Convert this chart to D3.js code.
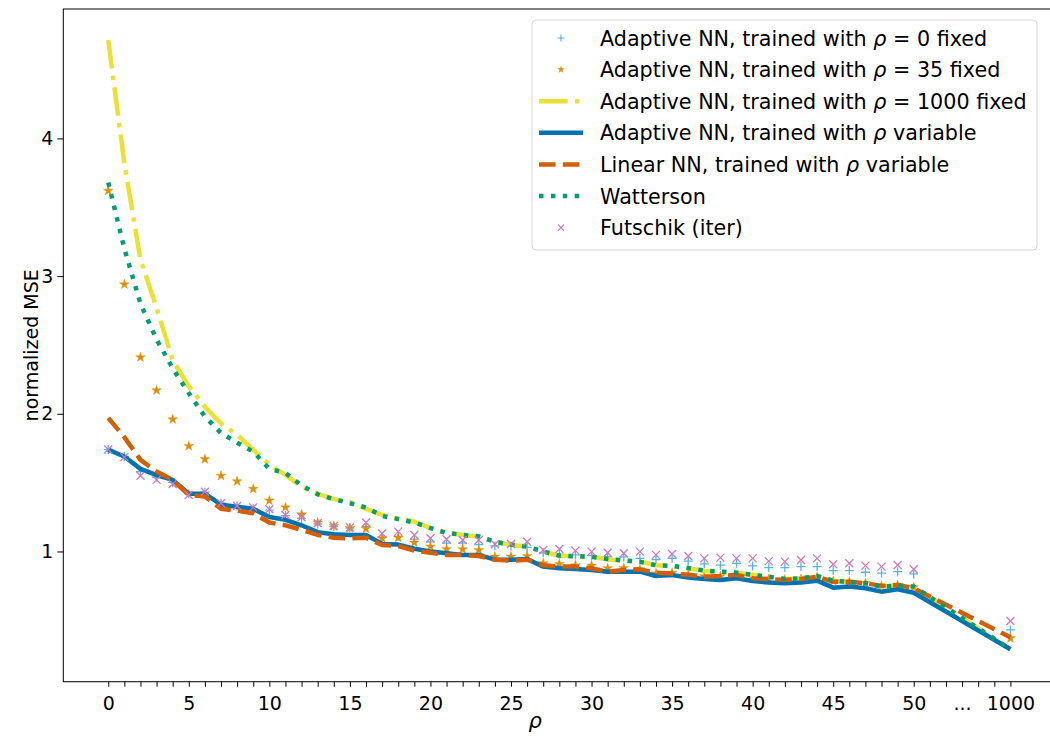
<!DOCTYPE html>
<html>
<head>
<meta charset="utf-8">
<script src="https://cdn.jsdelivr.net/npm/d3@7"></script>
<style>
  body { margin: 0; background: #fff; }
  text { font-family: "DejaVu Sans", sans-serif; fill: #000; }
</style>
</head>
<body>
<div id="chart"></div>
<script>
// rho values; 1000 is drawn after the "..." gap
var rho = [0,1,2,3,4,5,6,7,8,9,10,11,12,13,14,15,16,17,18,19,20,21,22,23,24,25,
  26,27,28,29,30,31,32,33,34,35,36,37,38,39,40,41,42,43,44,45,46,47,48,49,50,1000];

var adaptiveRho0 = [1.74,1.69,1.58,1.54,1.50,1.42,1.43,1.35,1.33,1.31,1.30,1.26,1.24,1.20,1.18,1.17,
  1.18,1.10,1.11,1.09,1.07,1.06,1.06,1.05,1.04,1.04,1.03,0.99,0.98,0.975,0.97,0.96,0.96,0.95,0.94,0.95,
  0.93,0.91,0.90,0.914,0.895,0.883,0.883,0.89,0.89,0.861,0.861,0.849,0.842,0.853,0.837,0.43];
var adaptiveRho35 = [3.62,2.94,2.41,2.17,1.96,1.766,1.67,1.55,1.51,1.454,1.37,1.32,1.27,1.21,1.185,1.17,
  1.165,1.096,1.10,1.064,1.035,1.016,1.016,1.01,0.962,0.962,0.967,0.914,0.909,0.90,0.897,0.878,0.88,0.87,
  0.84,0.845,0.83,0.82,0.82,0.825,0.81,0.80,0.795,0.80,0.815,0.785,0.78,0.77,0.75,0.755,0.74,0.37];
var adaptiveRho1000 = [4.715,3.82,3.12,2.77,2.39,2.20,2.05,1.93,1.846,1.74,1.63,1.556,1.47,1.42,1.38,1.36,
  1.31,1.265,1.24,1.216,1.17,1.137,1.12,1.107,1.07,1.047,1.035,1.0,0.967,0.967,0.962,0.943,0.933,0.926,
  0.90,0.895,0.878,0.858,0.853,0.846,0.83,0.817,0.80,0.805,0.822,0.788,0.778,0.769,0.745,0.752,0.745,0.29];
var adaptiveVar = [1.74,1.69,1.60,1.555,1.52,1.42,1.42,1.34,1.325,1.31,1.25,1.23,1.19,1.14,1.125,1.12,
  1.12,1.055,1.05,1.02,1.0,0.987,0.975,0.975,0.94,0.94,0.945,0.89,0.878,0.873,0.866,0.853,0.853,0.853,
  0.822,0.829,0.81,0.80,0.793,0.805,0.786,0.774,0.769,0.774,0.788,0.737,0.745,0.733,0.708,0.725,0.70,0.29];
var linearVar = [1.97,1.83,1.665,1.58,1.52,1.41,1.40,1.31,1.296,1.277,1.21,1.19,1.157,1.12,1.10,1.095,
  1.10,1.047,1.04,1.006,0.99,0.975,0.975,0.967,0.94,0.933,0.94,0.90,0.89,0.89,0.878,0.853,0.866,0.87,
  0.846,0.84,0.83,0.817,0.822,0.83,0.805,0.80,0.793,0.80,0.817,0.78,0.78,0.769,0.75,0.757,0.733,0.377];
var watterson = [3.68,3.20,2.80,2.54,2.33,2.15,1.98,1.86,1.79,1.725,1.60,1.57,1.48,1.415,1.38,1.35,
  1.32,1.258,1.235,1.21,1.17,1.135,1.12,1.11,1.07,1.05,1.035,1.0,0.97,0.965,0.962,0.945,0.935,0.925,
  0.90,0.895,0.88,0.861,0.853,0.846,0.83,0.817,0.80,0.805,0.822,0.788,0.778,0.769,0.745,0.752,0.745,0.29];
var futschik = [1.74,1.685,1.55,1.52,1.49,1.41,1.434,1.35,1.33,1.32,1.306,1.265,1.248,1.205,1.185,1.175,
  1.21,1.13,1.144,1.12,1.096,1.089,1.083,1.083,1.052,1.054,1.071,1.011,1.018,1.006,0.999,0.99,0.987,0.999,
  0.975,0.982,0.967,0.95,0.955,0.95,0.95,0.93,0.926,0.938,0.95,0.907,0.914,0.897,0.89,0.902,0.871,0.495];

var xTickLabels = ["0","5","10","15","20","25","30","35","40","45","50","...","1000"];
var xTickLabelPos = [0,5,10,15,20,25,30,35,40,45,50,53,56];
var yTicks = [1,2,3,4];

var width = 1050, height = 736;
var margin = {left: 63.3, top: 9, bottom: 681.7};

var svg = d3.select("#chart").append("svg")
  .attr("width", width)
  .attr("height", height);

// position on the x axis: 1000 sits after the gap
function pos(r) { return r === 1000 ? 56 : r; }

var x = d3.scaleLinear().domain([-2.79, 58.8]).range([margin.left, margin.left + 61.59 * 16.11]);
var y = d3.scaleLinear().domain([0.054, 4.94]).range([margin.bottom, margin.top]);

// frame
svg.append("rect")
  .attr("x", margin.left).attr("y", margin.top)
  .attr("width", x(58.8) - margin.left).attr("height", margin.bottom - margin.top)
  .attr("fill", "none").attr("stroke", "#000").attr("stroke-width", 1);

// x axis: a tick at every integer position, labels only on some
var xAxis = d3.axisBottom(x)
  .tickValues(d3.range(0, 57))
  .tickSize(5)
  .tickFormat(function(d) {
    var i = xTickLabelPos.indexOf(d);
    return i >= 0 ? xTickLabels[i] : "";
  });
var gx = svg.append("g")
  .attr("transform", "translate(0," + margin.bottom + ")")
  .call(xAxis);
gx.select(".domain").remove();
gx.selectAll("text").attr("font-size", 19).attr("dy", "1.05em")
  .attr("font-family", "DejaVu Sans").attr("fill", "#000");

var yAxis = d3.axisLeft(y).tickValues(yTicks).tickSize(6).tickFormat(d3.format("d"));
var gy = svg.append("g")
  .attr("transform", "translate(" + margin.left + ",0)")
  .call(yAxis);
gy.select(".domain").remove();
gy.selectAll("text").attr("font-size", 19).attr("x", -10)
  .attr("font-family", "DejaVu Sans").attr("fill", "#000");

// axis labels
svg.append("text")
  .attr("transform", "translate(38," + ((margin.top + margin.bottom) / 2) + ") rotate(-90)")
  .attr("text-anchor", "middle")
  .attr("font-size", 19)
  .text("normalized MSE");

svg.append("text")
  .attr("x", x(26.5)).attr("y", 728)
  .attr("text-anchor", "middle")
  .attr("font-size", 21)
  .attr("font-style", "italic")
  .text("ρ");

var colors = {
  lightblue: "#56b4e9", orange: "#de8f05", yellow: "#ece133",
  blue: "#0173b2", red: "#d55e00", green: "#029e73", pink: "#cc78bc"
};

var lw = 4.5;
var dashDot = "28.8,7.2,4.5,7.2", dashed = "16.6,7.2", dotted = "4.5,7.4";
var line = d3.line()
  .x(function(d, i) { return x(pos(rho[i])); })
  .y(function(d) { return y(d); });

var plot = svg.append("g");

function drawPlus(g, vals, color) {
  g.selectAll(null).data(vals).enter().append("path")
    .attr("d", "M-4.5,0H4.5M0,-4.5V4.5")
    .attr("transform", function(d, i) { return "translate(" + x(pos(rho[i])) + "," + y(d) + ")"; })
    .attr("stroke", color).attr("stroke-width", 1.3).attr("fill", "none");
}
function drawCross(g, vals, color) {
  g.selectAll(null).data(vals).enter().append("path")
    .attr("d", "M-4,-4L4,4M-4,4L4,-4")
    .attr("transform", function(d, i) { return "translate(" + x(pos(rho[i])) + "," + y(d) + ")"; })
    .attr("stroke", color).attr("stroke-width", 1.3).attr("fill", "none");
}
var starPath = d3.symbol().type(d3.symbolStar).size(30)();
function drawStar(g, vals, color) {
  g.selectAll(null).data(vals).enter().append("path")
    .attr("d", starPath)
    .attr("transform", function(d, i) { return "translate(" + x(pos(rho[i])) + "," + y(d) + ")"; })
    .attr("fill", color).attr("stroke", color).attr("stroke-width", 0.4);
}
function drawLine(g, vals, color, dash) {
  g.append("path").datum(vals)
    .attr("d", line)
    .attr("fill", "none").attr("stroke", color).attr("stroke-width", lw)
    .attr("stroke-dasharray", dash).attr("stroke-linejoin", "round");
}

drawPlus(plot, adaptiveRho0, colors.lightblue);
drawStar(plot, adaptiveRho35, colors.orange);
drawLine(plot, adaptiveRho1000, colors.yellow, dashDot);
drawLine(plot, adaptiveVar, colors.blue, null);
drawLine(plot, linearVar, colors.red, dashed);
drawLine(plot, watterson, colors.green, dotted);
drawCross(plot, futschik, colors.pink);

// legend
var legendItems = [
  {pre: "Adaptive NN, trained with ", post: " = 0 fixed", type: "plus", color: colors.lightblue},
  {pre: "Adaptive NN, trained with ", post: " = 35 fixed", type: "star", color: colors.orange},
  {pre: "Adaptive NN, trained with ", post: " = 1000 fixed", type: "line", color: colors.yellow, dash: dashDot},
  {pre: "Adaptive NN, trained with ", post: " variable", type: "line", color: colors.blue, dash: null},
  {pre: "Linear NN, trained with ", post: " variable", type: "line", color: colors.red, dash: dashed},
  {pre: "Watterson", post: null, type: "line", color: colors.green, dash: dotted},
  {pre: "Futschik (iter)", post: null, type: "cross", color: colors.pink}
];

var lg = svg.append("g");
lg.append("rect")
  .attr("x", 532).attr("y", 20).attr("width", 505).attr("height", 230)
  .attr("rx", 4).attr("fill", "#fff").attr("fill-opacity", 0.8)
  .attr("stroke", "#d6d6d6").attr("stroke-width", 1);

legendItems.forEach(function(it, i) {
  var cy = 38 + i * 31.6;
  var row = lg.append("g");
  if (it.type === "line") {
    row.append("line")
      .attr("x1", 539).attr("x2", 583).attr("y1", cy).attr("y2", cy)
      .attr("stroke", it.color).attr("stroke-width", lw)
      .attr("stroke-dasharray", it.dash);
  } else if (it.type === "plus") {
    row.append("path").attr("d", "M-3.5,0H3.5M0,-3.5V3.5")
      .attr("transform", "translate(561," + cy + ")")
      .attr("stroke", it.color).attr("stroke-width", 1.2);
  } else if (it.type === "star") {
    row.append("path").attr("d", d3.symbol().type(d3.symbolStar).size(18)())
      .attr("transform", "translate(561," + cy + ")")
      .attr("fill", it.color);
  } else {
    row.append("path").attr("d", "M-3,-3L3,3M-3,3L3,-3")
      .attr("transform", "translate(561," + cy + ")")
      .attr("stroke", it.color).attr("stroke-width", 1.2);
  }
  var t = row.append("text")
    .attr("x", 600).attr("y", cy + 7.5)
    .attr("font-size", 20.7)
    .attr("xml:space", "preserve");
  t.append("tspan").text(it.pre);
  if (it.post !== null) {
    t.append("tspan").attr("font-style", "italic").text("ρ");
    t.append("tspan").text(it.post);
  }
});
</script>
</body>
</html>
